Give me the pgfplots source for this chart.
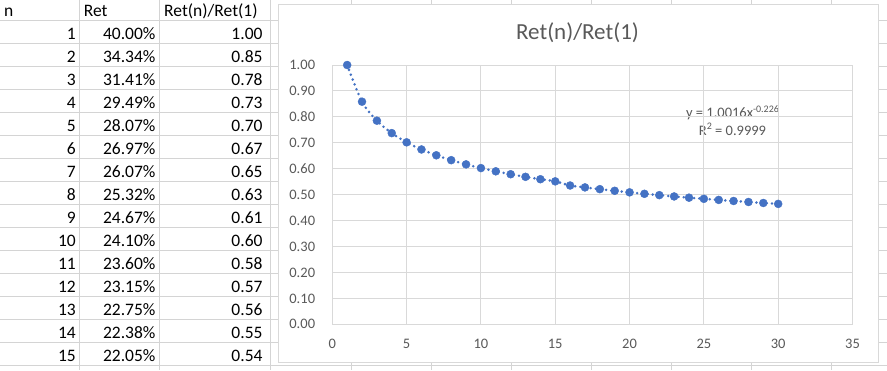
\documentclass[border=0pt]{standalone}
\usepackage{pgfplots}
\usepackage{pgfplotstable}
\pgfplotsset{compat=1.18}
\usepackage{fontspec}
\setmainfont{Carlito}
\definecolor{xlblue}{HTML}{4472C4}
\definecolor{gridc}{HTML}{D9D9D9}
\definecolor{cellc}{HTML}{D4D4D4}
\definecolor{txtg}{HTML}{595959}
\pgfplotstableread{
n r
1 1.0000
2 0.8585
3 0.7853
4 0.7373
5 0.7018
6 0.6743
7 0.6518
8 0.6330
9 0.6168
10 0.6025
11 0.5900
12 0.5788
13 0.5688
14 0.5595
15 0.5513
16 0.5353
17 0.5280
18 0.5212
19 0.5149
20 0.5089
21 0.5033
22 0.4981
23 0.4931
24 0.4884
25 0.4839
26 0.4797
27 0.4756
28 0.4717
29 0.4679
30 0.4644
}\ratiodata
\begin{document}
\begin{tikzpicture}
\useasboundingbox (0,0) rectangle (887pt,-370pt);
\begin{scope}[x=1pt,y=-1pt]
\fill[white] (0,0) rectangle (887,370);
\foreach \k in {0,...,15} {\draw[cellc, line width=1pt] (0,{20.7+23*\k}) -- (887,{20.7+23*\k});}
\foreach \x in {79.5,159.5,270,351.7,431.7,511.7,591.7,671.7,751.7,831.7} {\draw[cellc, line width=1pt] (\x,0) -- (\x,370);}
\begin{scope}[font=\fontsize{17.5}{20}\selectfont]
\node[anchor=base west, inner sep=0pt] at (4,16.7) {n};
\node[anchor=base west, inner sep=0pt] at (83.7,16.7) {Ret};
\node[anchor=base west, inner sep=0pt] at (164,16.7) {Ret(n)/Ret(1)};
\foreach \n/\r/\q [count=\k] in {1/40.00/1.00, 2/34.34/0.85, 3/31.41/0.78, 4/29.49/0.73, 5/28.07/0.70, 6/26.97/0.67, 7/26.07/0.65, 8/25.32/0.63, 9/24.67/0.61, 10/24.10/0.60, 11/23.60/0.58, 12/23.15/0.57, 13/22.75/0.56, 14/22.38/0.55, 15/22.05/0.54} {
  \node[anchor=base east, inner sep=0pt] at (76,{16.4+23*\k}) {\n};
  \node[anchor=base east, inner sep=0pt] at (155.7,{16.4+23*\k}) {\r\%};
  \node[anchor=base east, inner sep=0pt] at (262.7,{16.4+23*\k}) {\q};
}
\end{scope}
\filldraw[fill=white, draw=gridc, line width=1pt] (278.3,4.3) rectangle (878.7,362.7);
\node[anchor=base, inner sep=0pt, text=txtg, font=\fontsize{23}{27}\selectfont] at (577.5,39.3) {Ret(n)/Ret(1)};
\node[anchor=base, inner sep=0pt, text=txtg, font=\fontsize{14.5}{17}\selectfont] at (732.5,117.7) {y = 1.0016x\raisebox{5.5pt}{\fontsize{10}{10}\selectfont -0.226}};
\node[anchor=base, inner sep=0pt, text=txtg, font=\fontsize{14.5}{17}\selectfont] at (732.5,135) {R\raisebox{5.5pt}{\fontsize{10}{10}\selectfont 2} = 0.9999};
\end{scope}
\begin{axis}[
  at={(332.3pt,-324.3pt)}, anchor=south west,
  scale only axis, width=520.2pt, height=259.3pt,
  xmin=0, xmax=35, ymin=0, ymax=1,
  xtick={0,5,10,15,20,25,30,35},
  ytick={0,0.1,0.2,0.3,0.4,0.5,0.6,0.7,0.8,0.9,1.0},
  grid=major, grid style={gridc, line width=1pt},
  axis line style={gridc, line width=1pt},
  major tick length=0pt,
  /pgf/number format/assume math mode=true,
  tick label style={font=\fontsize{14.5}{17}\selectfont, text=txtg},
  x tick label style={anchor=north, inner sep=0pt, yshift=-14.5pt},
  y tick label style={anchor=east, inner sep=0pt, xshift=-17pt,
    /pgf/number format/fixed, /pgf/number format/fixed zerofill, /pgf/number format/precision=2},
  clip=false,
]
\addplot[xlblue, line width=2.8pt, line cap=round, dash pattern=on 0pt off 5.2pt, smooth, no marks] table[x=n,y=r] {\ratiodata};
\addplot[only marks, mark=*, mark size=4pt, mark options={solid, fill=xlblue, draw=xlblue, line width=0.4pt}] table[x=n,y=r] {\ratiodata};
\end{axis}
\end{tikzpicture}
\end{document}
